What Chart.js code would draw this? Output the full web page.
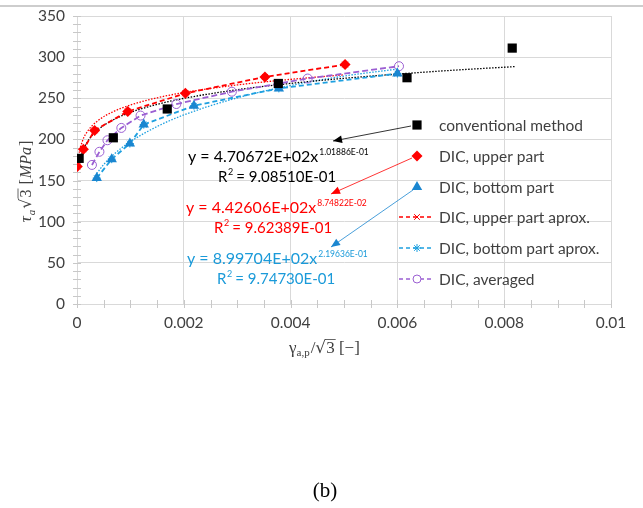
<!DOCTYPE html>
<html>
<head>
<meta charset="utf-8">
<script src="https://cdn.jsdelivr.net/npm/chart.js@4.4.1/dist/chart.umd.min.js"></script>
<style>
  body { margin: 0; background: #ffffff; }
  #wrap { width: 643px; height: 508px; }
</style>
</head>
<body>
<div id="wrap"><canvas id="grafica" width="643" height="508"></canvas></div>
<script>
// valores
var xConv = [0.00004, 0.00068, 0.00169, 0.00377, 0.00618, 0.00815];
var yConv = [177, 202, 237, 268, 275, 311];

var xUpper = [0.000006, 0.00012, 0.00033, 0.00095, 0.00203, 0.00352, 0.00502];
var yUpper = [167, 188, 211, 234, 256, 276, 291];

var xBottom = [0.00037, 0.00065, 0.00099, 0.00125, 0.00219, 0.00378, 0.006];
var yBottom = [153, 176, 195, 218, 241, 262, 280];

var xAvg = [0.00028, 0.00042, 0.00057, 0.00083, 0.00119, 0.00186, 0.0029, 0.00432, 0.00603];
var yAvg = [169, 185, 199, 214, 229, 243, 258, 274, 289];

// lineas de tendencia (puntos leidos sobre las curvas punteadas)
var xTrendConv = [0.00004, 0.0001, 0.0002, 0.0004, 0.0007, 0.001, 0.0015, 0.002, 0.003, 0.004, 0.005, 0.006, 0.007, 0.0082];
var yTrendConv = [167.7, 184.1, 197.6, 212.1, 224.5, 232.8, 242.6, 249.9, 260.4, 268.1, 274.3, 279.4, 283.9, 288.5];

var xTrendUpper = [0.00001, 0.00003, 0.0001, 0.0002, 0.0004, 0.0007, 0.001, 0.0015, 0.002, 0.003, 0.004, 0.005];
var yTrendUpper = [161.7, 178.0, 197.7, 210.1, 223.2, 234.4, 241.8, 250.6, 256.9, 266.2, 273.0, 278.5];

var xTrendBottom = [0.00037, 0.0005, 0.0007, 0.001, 0.0015, 0.002, 0.003, 0.004, 0.005, 0.006];
var yTrendBottom = [158.6, 169.5, 182.5, 197.3, 215.7, 229.8, 250.5, 265.5, 277.0, 285.5];

var xTickLabels = ["0", "0.002", "0.004", "0.006", "0.008", "0.01"];
var yTickLabels = ["0", "50", "100", "150", "200", "250", "300", "350"];

var seriesNames = ["conventional method", "DIC, upper part", "DIC, bottom part",
                   "DIC, upper part aprox.", "DIC, bottom part aprox.", "DIC, averaged"];

var ROJO = "#ff0000";
var AZUL = "#1a86d0";
var AZUL_CLARO = "#1ea0e0";
var MORADO = "#9b5fd2";
var GRIS = "#d9d9d9";
var TEXTO = "#404040";

function pares(xs, ys) {
	return xs.map(function (x, i) { return { x: x, y: ys[i] }; });
}

// ticks menores, titulos de ejes, leyenda y ecuaciones
var decoracion = {
	id: "decoracion",
	beforeDatasetsDraw: function (chart) {
		var c = chart.ctx, a = chart.chartArea;
		var sx = chart.scales.x, sy = chart.scales.y;
		c.save();
		c.strokeStyle = "#c8c8c8";
		c.lineWidth = 1;
		c.beginPath();
		for (var v = 0; v <= 350; v += 10) {
			var py = Math.round(sy.getPixelForValue(v)) + 0.5;
			c.moveTo(a.left - 4, py); c.lineTo(a.left + 4, py);
		}
		for (var k = 0; k <= 20; k++) {
			var px = Math.round(sx.getPixelForValue(k * 0.0005)) + 0.5;
			c.moveTo(px, a.bottom - 4); c.lineTo(px, a.bottom + 4);
		}
		c.stroke();
		c.restore();
	},
	afterDraw: function (chart) {
		var c = chart.ctx;
		c.save();

		// linea gris superior
		c.strokeStyle = "#bdbdbd";
		c.lineWidth = 1.5;
		c.beginPath(); c.moveTo(0, 6); c.lineTo(643, 6); c.stroke();

		// titulo eje y
		c.save();
		c.translate(26, 181);
		c.rotate(-Math.PI / 2);
		c.fillStyle = TEXTO;
		c.textBaseline = "alphabetic";
		var partes = [
			["τ", "italic 17px 'Liberation Serif'", 0],
			["a", "italic 11px 'Liberation Serif'", 4],
			["√", "16px 'DejaVu Serif'", 0],
			["3", "16px 'Liberation Serif'", 0],
			[" [", "16px 'Liberation Serif'", 0],
			["MPa", "italic 16px 'Liberation Serif'", 0],
			["]", "16px 'Liberation Serif'", 0]
		];
		var total = 0;
		partes.forEach(function (p) { c.font = p[1]; total += c.measureText(p[0]).width + 1; });
		var x0 = -total / 2;
		partes.forEach(function (p, i) {
			c.font = p[1];
			c.fillText(p[0], x0, 5 + p[2]);
			var w = c.measureText(p[0]).width;
			if (i === 3) {
				c.strokeStyle = TEXTO; c.lineWidth = 0.8;
				c.beginPath(); c.moveTo(x0 - 1, -8); c.lineTo(x0 + w + 1, -8); c.stroke();
			}
			x0 += w + 1;
		});
		c.restore();

		// titulo eje x
		var px0 = 289, by = 353;
		c.fillStyle = TEXTO;
		c.font = "17px 'Liberation Serif'";
		c.fillText("γ", px0, by);
		px0 += c.measureText("γ").width;
		c.font = "11px 'Liberation Serif'";
		c.fillText("a,p", px0, by + 3);
		px0 += c.measureText("a,p").width + 1;
		c.font = "17px 'Liberation Serif'";
		c.fillText("/", px0, by);
		px0 += c.measureText("/").width;
		c.font = "17px 'DejaVu Serif'";
		c.fillText("√", px0, by);
		px0 += c.measureText("√").width;
		c.font = "17px 'Liberation Serif'";
		var w3 = c.measureText("3").width;
		c.fillText("3", px0, by);
		c.strokeStyle = TEXTO; c.lineWidth = 0.8;
		c.beginPath(); c.moveTo(px0 - 1, by - 13.5); c.lineTo(px0 + w3 + 1, by - 13.5); c.stroke();
		px0 += w3;
		c.fillText(" [−]", px0, by);

		// leyenda
		var H = Chart.helpers;
		var ly = [125, 156, 187, 217, 248, 279];
		var mx = 417;
		c.textBaseline = "middle";
		c.font = "15.5px Lato";
		c.fillStyle = TEXTO;
		seriesNames.forEach(function (n, i) { c.fillText(n, 439, ly[i] + 1); });

		c.fillStyle = "#000"; c.strokeStyle = "#000";
		H.drawPoint(c, { pointStyle: "rect", radius: 6.5, borderWidth: 0 }, mx, ly[0]);
		c.fillStyle = ROJO; c.strokeStyle = ROJO;
		H.drawPoint(c, { pointStyle: "rectRot", radius: 5.5, borderWidth: 0 }, mx, ly[1]);
		c.fillStyle = AZUL; c.strokeStyle = AZUL;
		H.drawPoint(c, { pointStyle: "triangle", radius: 6, borderWidth: 0 }, mx, ly[2]);

		var lineas = [[ROJO, "crossRot", ly[3]], [AZUL_CLARO, "star", ly[4]], [MORADO, "circle", ly[5]]];
		lineas.forEach(function (l) {
			c.save();
			c.strokeStyle = l[0]; c.lineWidth = 1.5;
			c.setLineDash([4, 3]);
			c.beginPath(); c.moveTo(399, l[2]); c.lineTo(434, l[2]); c.stroke();
			c.restore();
			c.strokeStyle = l[0]; c.fillStyle = "#ffffff"; c.lineWidth = 1;
			H.drawPoint(c, { pointStyle: l[1], radius: 4, borderWidth: 1 }, mx, l[2]);
		});

		// flechas
		function flecha(x1, y1, x2, y2, col) {
			c.strokeStyle = col; c.fillStyle = col; c.lineWidth = 0.8;
			c.beginPath(); c.moveTo(x1, y1); c.lineTo(x2, y2); c.stroke();
			var ang = Math.atan2(y2 - y1, x2 - x1), L = 9, W = 3.8;
			c.beginPath();
			c.moveTo(x2, y2);
			c.lineTo(x2 - L * Math.cos(ang) + W * Math.sin(ang), y2 - L * Math.sin(ang) - W * Math.cos(ang));
			c.lineTo(x2 - L * Math.cos(ang) - W * Math.sin(ang), y2 - L * Math.sin(ang) + W * Math.cos(ang));
			c.closePath(); c.fill();
		}
		flecha(411, 126, 333, 141, "#000000");
		flecha(412, 158, 331, 194, ROJO);
		flecha(413, 190, 331, 247, AZUL);

		// ecuaciones
		function ecuacion(x, y, base, sup, r2x, r2, col) {
			c.fillStyle = col;
			c.textBaseline = "alphabetic";
			c.font = "16px Lato";
			c.fillText(base, x, y);
			var w = c.measureText(base).width;
			c.font = "8.5px Lato";
			c.fillText(sup, x + w + 1, y - 7);
			c.font = "15px Lato";
			c.fillText("R", r2x, y + 20);
			var wr = c.measureText("R").width;
			c.font = "9px Lato";
			c.fillText("2", r2x + wr + 0.5, y + 13);
			c.font = "15px Lato";
			c.fillText(" = " + r2, r2x + wr + 5, y + 20);
		}
		ecuacion(188, 162, "y = 4.70672E+02x", "1.01886E-01", 218, "9.08510E-01", "#000000");
		ecuacion(186, 213, "y = 4.42606E+02x", "8.74822E-02", 214, "9.62389E-01", ROJO);
		ecuacion(187, 264, "y = 8.99704E+02x", "2.19636E-01", 217, "9.74730E-01", "#1a9ad9");

		// pie de figura
		c.fillStyle = "#000";
		c.textAlign = "center";
		c.textBaseline = "middle";
		c.font = "21px 'Liberation Serif'";
		c.fillText("(b)", 325, 491);
		c.restore();
	}
};

var ctx = document.getElementById("grafica").getContext("2d");
var grafica = new Chart(ctx, {
	type: "scatter",
	data: {
		datasets: [
			{
				label: seriesNames[0],
				data: pares(xConv, yConv),
				pointStyle: "rect",
				pointRadius: 6.5,
				pointHoverRadius: 6.5,
				backgroundColor: "#000000",
				borderColor: "#000000",
				borderWidth: 0,
				showLine: false,
			},
			{
				label: seriesNames[1],
				data: pares(xUpper, yUpper),
				pointStyle: "rectRot",
				pointRadius: 5.5,
				backgroundColor: ROJO,
				borderColor: ROJO,
				borderWidth: 0,
				showLine: false,
			},
			{
				label: seriesNames[2],
				data: pares(xBottom, yBottom),
				pointStyle: "triangle",
				pointRadius: 6,
				backgroundColor: AZUL,
				borderColor: AZUL,
				borderWidth: 0,
				showLine: false,
			},
			{
				label: seriesNames[5],
				data: pares(xAvg, yAvg),
				pointStyle: "circle",
				pointRadius: 4.5,
				backgroundColor: "rgba(255,255,255,0)",
				borderColor: MORADO,
				pointBorderWidth: 1,
				borderWidth: 1.8,
				borderDash: [6, 3],
				showLine: true,
			},
			{
				label: seriesNames[3],
				data: pares(xUpper, yUpper),
				pointStyle: "crossRot",
				pointRadius: 4,
				borderColor: ROJO,
				backgroundColor: ROJO,
				pointBorderWidth: 1,
				borderWidth: 1.8,
				borderDash: [5, 3],
				showLine: true,
			},
			{
				label: seriesNames[4],
				data: pares(xBottom, yBottom),
				pointStyle: "star",
				pointRadius: 4,
				borderColor: AZUL_CLARO,
				backgroundColor: AZUL_CLARO,
				pointBorderWidth: 1,
				borderWidth: 1.8,
				borderDash: [5, 3],
				showLine: true,
			},
			{
				label: "trend conventional",
				data: pares(xTrendConv, yTrendConv),
				pointRadius: 0,
				borderColor: "#000000",
				borderWidth: 1.3,
				borderDash: [1.5, 1.5],
				cubicInterpolationMode: "monotone",
				showLine: true,
			},
			{
				label: "trend upper",
				data: pares(xTrendUpper, yTrendUpper),
				pointRadius: 0,
				borderColor: ROJO,
				borderWidth: 1.3,
				borderDash: [1.5, 1.5],
				cubicInterpolationMode: "monotone",
				showLine: true,
			},
			{
				label: "trend bottom",
				data: pares(xTrendBottom, yTrendBottom),
				pointRadius: 0,
				borderColor: AZUL_CLARO,
				borderWidth: 1.3,
				borderDash: [1.5, 1.5],
				cubicInterpolationMode: "monotone",
				showLine: true,
			},
		],
	},
	options: {
		responsive: false,
		animation: false,
		layout: {
			padding: { left: 0, right: 32, top: 16, bottom: 164 }
		},
		plugins: {
			legend: { display: false },
			tooltip: { enabled: false },
		},
		scales: {
			x: {
				type: "linear",
				min: 0,
				max: 0.01,
				afterFit: function (s) { s.height = 40; s.paddingLeft = 0; s.paddingRight = 0; },
				afterBuildTicks: function (s) {
					s.ticks = xTickLabels.map(function (t) { return { value: parseFloat(t) }; });
				},
				grid: { color: GRIS, drawTicks: false },
				border: { color: GRIS },
				ticks: {
					color: TEXTO,
					font: { family: "Lato", size: 15.5 },
					padding: 10,
					maxRotation: 0,
					callback: function (v, i) { return xTickLabels[i]; },
				},
			},
			y: {
				min: 0,
				max: 350,
				afterFit: function (s) { s.width = 77; s.paddingTop = 0; s.paddingBottom = 0; },
				grid: { color: GRIS, drawTicks: false },
				border: { color: GRIS },
				ticks: {
					stepSize: 50,
					color: TEXTO,
					font: { family: "Lato", size: 15.5 },
					padding: 12,
					callback: function (v, i) { return yTickLabels[i]; },
				},
			},
		},
	},
	plugins: [decoracion],
});
</script>
</body>
</html>
